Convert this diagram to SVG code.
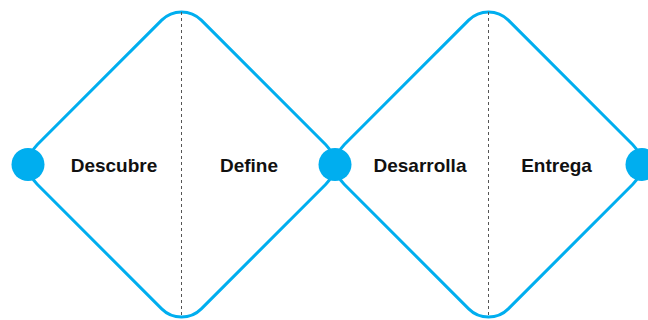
<svg xmlns="http://www.w3.org/2000/svg" width="648" height="320" viewBox="0 0 648 320">
  <style>
    .diamond { fill: none; stroke: #00AEEF; stroke-width: 3; }
    .divider { stroke: #555555; stroke-width: 1; stroke-dasharray: 3 3; fill: none; }
    .dot { fill: #00AEEF; }
    .label { font-family: "Liberation Sans", Arial, sans-serif; font-weight: bold; font-size: 19px; fill: #111111; text-anchor: middle; }
  </style>
  <rect width="648" height="320" fill="#ffffff"/>
  <g id="diamond-discover-define">
    <rect class="diamond" x="-116.05" y="-116.05" width="232.1" height="232.1" rx="28" transform="translate(181.5 164.5) rotate(45)"/>
    <line class="divider" x1="181.5" y1="12" x2="181.5" y2="317"/>
  </g>
  <g id="diamond-develop-deliver">
    <rect class="diamond" x="-116.05" y="-116.05" width="232.1" height="232.1" rx="28" transform="translate(488.5 164.5) rotate(45)"/>
    <line class="divider" x1="488.5" y1="12" x2="488.5" y2="317"/>
  </g>
  <g id="connectors"></g>
  <g id="node-start"><circle class="dot" cx="28" cy="164.5" r="16.5"/></g>
  <g id="node-middle"><circle class="dot" cx="335" cy="164.5" r="16.5"/></g>
  <g id="node-end"><circle class="dot" cx="642" cy="164.5" r="16.5"/></g>
  <g id="label-descubre"><text class="label" x="114" y="172">Descubre</text></g>
  <g id="label-define"><text class="label" x="249" y="172">Define</text></g>
  <g id="label-desarrolla"><text class="label" x="420" y="172">Desarrolla</text></g>
  <g id="label-entrega"><text class="label" x="556.5" y="172">Entrega</text></g>
</svg>
